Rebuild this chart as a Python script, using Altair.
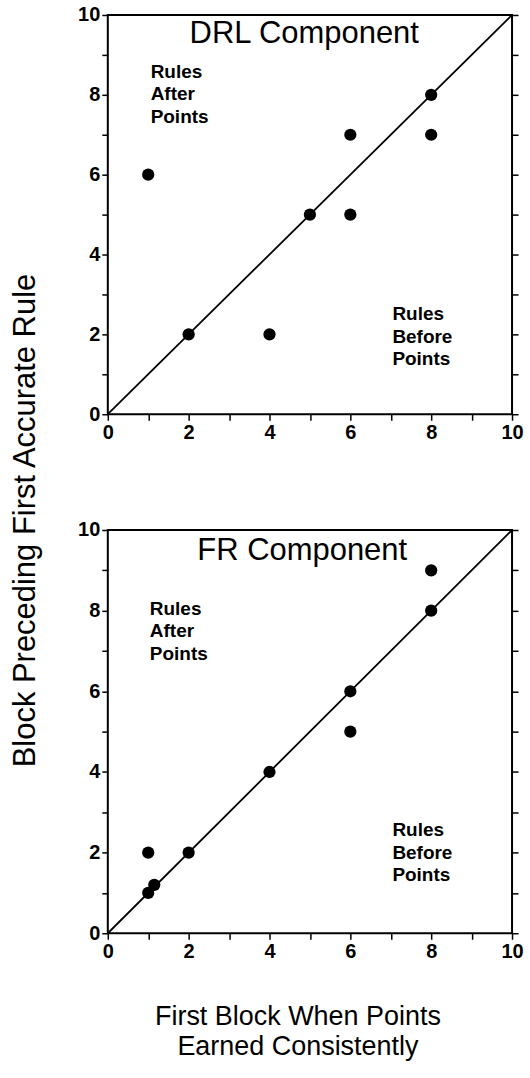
import altair as alt
import pandas as pd

# First block in which points were earned consistently (x) versus the block
# preceding the first accurate rule (y), one point per subject.
drl_first_points = [1, 2, 4, 5, 6, 6, 8, 8]
drl_first_rule = [6, 2, 2, 5, 7, 5, 8, 7]
fr_first_points = [1, 1, 1.15, 2, 4, 6, 6, 8, 8]
fr_first_rule = [2, 1, 1.2, 2, 4, 6, 5, 9, 8]

# Ends of the identity (y = x) line
identity_ends = [0, 10]
tick_values = list(range(11))

panel_titles = ["DRL Component", "FR Component"]
after_lines = ["Rules", "After", "Points"]
before_lines = ["Rules", "Before", "Points"]
y_title = "Block Preceding First Accurate Rule"
x_title = ["First Block When Points", "Earned Consistently"]

FONT = "Liberation Sans"
EVEN_LABELS = "datum.value % 2 === 0 ? datum.label : ''"


def panel(xs, ys, name, title_at, after_at, before_at, height, show_y_title, show_x_title):
    scale = alt.Scale(domain=[0, 10], nice=False, zero=False)
    pts = pd.DataFrame({"x": xs, "y": ys})
    diag = pd.DataFrame({"x": identity_ends, "y": identity_ends})

    # identity line, carrying the right-hand tick-only axis
    diag_layer = alt.Chart(diag).mark_line(color="black", strokeWidth=1.8).encode(
        x=alt.X("x:Q", scale=scale, axis=None),
        y=alt.Y("y:Q", scale=scale, title=None,
                axis=alt.Axis(orient="right", values=tick_values, labels=False)),
    )

    if show_x_title:
        x_enc = alt.X("x:Q", scale=scale, title=x_title,
                      axis=alt.Axis(orient="bottom", values=tick_values, labelExpr=EVEN_LABELS,
                                    titleFont=FONT, titleFontSize=27, titleFontWeight="normal",
                                    titleColor="black", titleAlign="center",
                                    titleBaseline="alphabetic", titleLineHeight=30,
                                    titleX=190, titleY=91))
    else:
        x_enc = alt.X("x:Q", scale=scale, title=None,
                      axis=alt.Axis(orient="bottom", values=tick_values, labelExpr=EVEN_LABELS))

    if show_y_title:
        y_enc = alt.Y("y:Q", scale=scale, title=y_title,
                      axis=alt.Axis(orient="left", values=tick_values, labelExpr=EVEN_LABELS,
                                    titleFont=FONT, titleFontSize=31, titleFontWeight="normal",
                                    titleColor="black", titleAngle=270, titleAlign="center",
                                    titleBaseline="alphabetic", titleX=-73, titleY=506))
    else:
        y_enc = alt.Y("y:Q", scale=scale, title=None,
                      axis=alt.Axis(orient="left", values=tick_values, labelExpr=EVEN_LABELS))

    point_layer = alt.Chart(pts).mark_circle(size=150, color="black", opacity=1).encode(
        x=x_enc, y=y_enc
    )

    one = pd.DataFrame({"k": [0]})

    def label(text, at, size, weight, align, line_height=22.5):
        return alt.Chart(one).mark_text(
            font=FONT, fontSize=size, fontWeight=weight, color="black",
            align=align, baseline="alphabetic", lineHeight=line_height,
        ).encode(
            x=alt.XDatum(at[0], type="quantitative", scale=scale, axis=None),
            y=alt.YDatum(at[1], type="quantitative", scale=scale, axis=None),
            text=alt.value(text),
        )

    title_layer = label(name, title_at, 31, "normal", "center")
    after_layer = label(after_lines, after_at, 19, "bold", "left")
    before_layer = label(before_lines, before_at, 19, "bold", "left")

    return alt.layer(
        point_layer, diag_layer, title_layer, after_layer, before_layer
    ).resolve_axis(x="independent", y="independent").properties(width=405, height=height)


top = panel(drl_first_points, drl_first_rule, panel_titles[0],
            (4.86, 9.3), (1.06, 8.43), (7.04, 2.35), 400, True, False)
bottom = panel(fr_first_points, fr_first_rule, panel_titles[1],
               (4.81, 9.26), (1.04, 7.9), (7.04, 2.4), 404, False, True)

chart = alt.vconcat(top, bottom, spacing=116).properties(
    bounds="flush",
    padding={"left": 8, "top": 3, "right": 5, "bottom": 5},
).configure_view(
    stroke="black", strokeWidth=2
).configure_axis(
    labelFont=FONT, labelFontSize=20, labelFontWeight="bold", labelColor="black",
    labelPadding=2, labelFlush=False, labelOverlap=False,
    tickColor="black", tickWidth=1.5, tickSize=6, domain=False, grid=False,
)

chart.save("out.html", embed_options={"renderer": "svg", "actions": False})
